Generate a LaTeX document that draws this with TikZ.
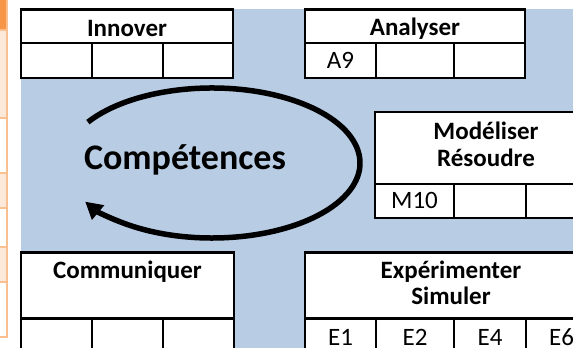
\documentclass[tikz,border=0pt]{standalone}
\usepackage{fontspec}
\setmainfont{Carlito}
\usetikzlibrary{arrows.meta}
\definecolor{bgblue}{HTML}{B8CCE4}
\definecolor{orgdark}{HTML}{F79646}
\definecolor{orglight}{HTML}{FDE9D9}
\definecolor{orgline}{HTML}{FAC090}
\begin{document}
\begin{tikzpicture}[x=1pt,y=1pt,
  tbl/.style={line width=2.5pt, draw=black, fill=white},
  tline/.style={line width=2.5pt, draw=black},
  hd/.style={font=\fontsize{25}{27}\selectfont\bfseries, anchor=base, inner sep=0pt},
  cl/.style={font=\fontsize{25}{27}\selectfont, anchor=base, inner sep=0pt},
  big/.style={font=\fontsize{36}{40}\selectfont\bfseries, anchor=base, inner sep=0pt},
  cycle arrow/.style={line width=5.5pt, -{Triangle[length=17pt,width=18pt]}},
  ]
\useasboundingbox (0,0) rectangle (573,348);
\clip (0,0) rectangle (573,348);
% background
\fill[bgblue] (21,-5) rectangle (580,338.5);
% orange strip at left
\fill[orgdark] (-5,318) rectangle (7,353);
\fill[orglight] (-5,230) rectangle (7,318);
\fill[white] (-5,175) rectangle (7,230);
\fill[orglight] (-5,140) rectangle (7,175);
\fill[white] (-5,101) rectangle (7,140);
\fill[orglight] (-5,66) rectangle (7,101);
\fill[white] (-5,11) rectangle (7,66);
\draw[orgline, line width=2pt] (-5,11) rectangle (7,353);
\foreach \yy in {318,230,175,140,101,66}
  \draw[orgline, line width=2pt] (-5,\yy) -- (7,\yy);
% Innover
\draw[tbl] (21,270) rectangle (233,338.5);
\draw[tline] (21,305) -- (233,305);
\draw[tline] (92,270) -- (92,305);
\draw[tline] (163,270) -- (163,305);
% Analyser
\draw[tbl] (305,270) rectangle (525,338.5);
\draw[tline] (305,305) -- (525,305);
\draw[tline] (376,270) -- (376,305);
\draw[tline] (454,270) -- (454,305);
% Modeliser
\draw[tbl] (375,130) rectangle (597,236);
\draw[tline] (375,164) -- (597,164);
\draw[tline] (454,130) -- (454,164);
\draw[tline] (526,130) -- (526,164);
% Communiquer
\draw[tbl] (21,-10) rectangle (234,95.3);
\draw[tline] (21,29.3) -- (234,29.3);
\draw[tline] (92,-10) -- (92,29.3);
\draw[tline] (163,-10) -- (163,29.3);
% Experimenter
\draw[tbl] (305,-10) rectangle (597,95.3);
\draw[tline] (305,29.3) -- (597,29.3);
\draw[tline] (376,-10) -- (376,29.3);
\draw[tline] (454,-10) -- (454,29.3);
\draw[tline] (526,-10) -- (526,29.3);
% texts
\node[hd] (innover) at (127,311.5) {Innover};
\node[hd] (analyser) at (415,312) {Analyser};
\node[cl] (a9) at (340.5,279) {A9};
\node[hd] (mod1) at (486,208.3) {Modéliser};
\node[hd] (mod2) at (486,181) {Résoudre};
\node[cl] (m10) at (414.5,139.7) {M10};
\node[big] (comp) at (185,178) {Compétences};
\node[hd] (comm) at (127.5,69) {Communiquer};
\node[hd] (exp1) at (451,69) {Expérimenter};
\node[hd] (exp2) at (451,43) {Simuler};
\node[cl] (e1) at (340.5,2.5) {E1};
\node[cl] (e2) at (415,2.5) {E2};
\node[cl] (e4) at (490,2.5) {E4};
\node[cl] (e6) at (561.5,2.5) {E6};
% cycle arrow around the central label
\coordinate (ellc) at (212,185);
\draw[cycle arrow] ([shift={(147:148 and 75)}]ellc) arc[start angle=147, end angle=-149, x radius=148, y radius=75];
\end{tikzpicture}
\end{document}
